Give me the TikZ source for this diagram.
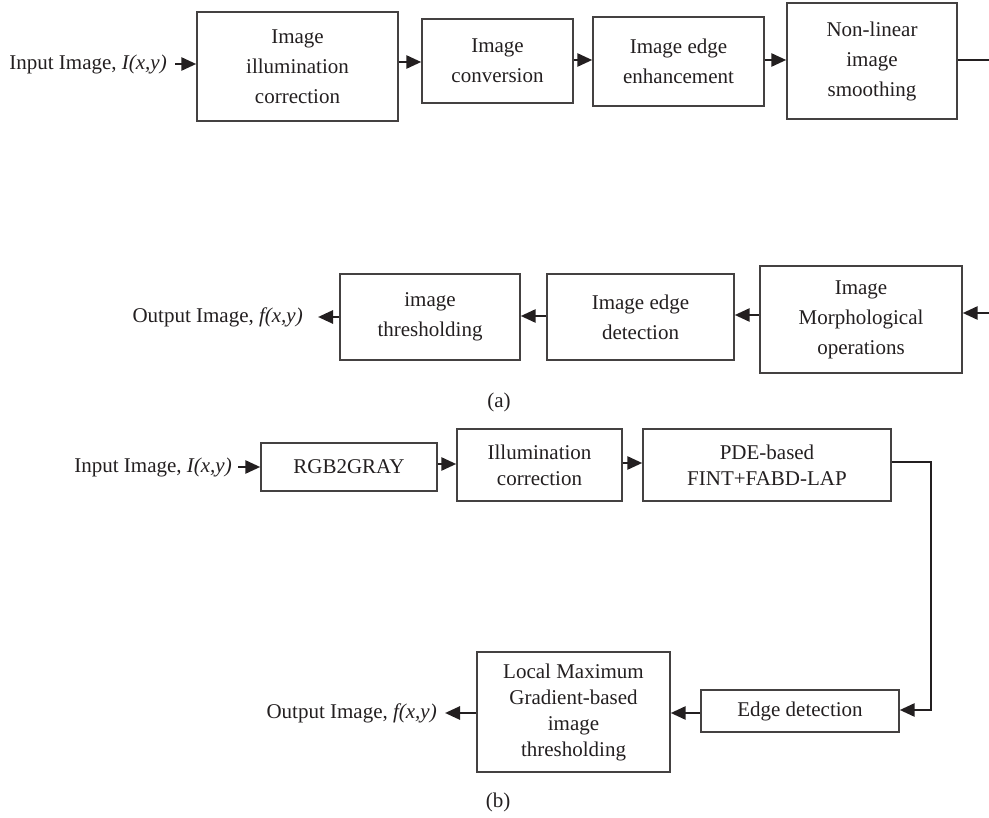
\documentclass[tikz,border=0pt]{standalone}
\usepackage{fontspec}
\setmainfont{Liberation Serif}
\usetikzlibrary{arrows.meta}
\definecolor{ink}{HTML}{231F20}
\begin{document}
\begin{tikzpicture}[x=1pt,y=-1pt,
  every node/.style={text=ink},
  box/.style={draw=ink!85, line width=1.4pt, rectangle, inner sep=0pt, align=center, font=\fontsize{21}{30}\selectfont},
  boxb/.style={box, font=\fontsize{21}{26}\selectfont},
  lbl/.style={inner sep=0pt, font=\fontsize{21}{24}\selectfont},
  conn/.style={draw=ink, line width=2.7pt},
  arr/.style={conn, -{Triangle[length=15pt,width=13pt]}}
]
\useasboundingbox (0,0) rectangle (989,818);

% ---------- (a) top row ----------
\node[lbl, anchor=east] (in1) at (167,64) {Input Image, \textit{I(x,y)}};
\node[box, minimum width=201pt, minimum height=109pt] (b1) at (297.5,66.5) {Image\\illumination\\correction};
\node[box, minimum width=151pt, minimum height=84pt] (b2) at (497.5,61) {Image\\conversion};
\node[box, minimum width=171pt, minimum height=89pt] (b3) at (678.5,61.5) {Image edge\\enhancement};
\node[box, minimum width=170pt, minimum height=116pt] (b4) at (872,61) {Non-linear\\image\\smoothing};
\coordinate (r1) at (989,60);

\draw[arr] ([xshift=8pt]in1.east) -- (b1.west |- in1.east);
\draw[arr] (b1.east |- 0,62) -- (b2.west |- 0,62);
\draw[arr] (b2.east |- 0,60) -- (b3.west |- 0,60);
\draw[arr] (b3.east |- 0,60) -- (b4.west |- 0,60);
\draw[conn] (b4.east |- r1) -- (r1);

% ---------- (a) second row ----------
\coordinate (r2) at (989,313);
\node[box, minimum width=202pt, minimum height=107pt] (c3) at (861,319.5) {Image\\Morphological\\operations};
\node[box, minimum width=187pt, minimum height=86pt] (c2) at (640.5,317) {Image edge\\detection};
\node[box, minimum width=180pt, minimum height=86pt] (c1) at (430,317) {image\\thresholding};
\node[lbl, anchor=east] (out1) at (303,317) {Output Image, \textit{f(x,y)}};

\draw[arr] (r2) -- (c3.east |- r2);
\draw[arr] (c3.west |- 0,315) -- (c2.east |- 0,315);
\draw[arr] (c2.west |- 0,316) -- (c1.east |- 0,316);
\draw[arr] (c1.west |- out1.east) -- ([xshift=15pt]out1.east);

\node[lbl] (capa) at (499,402) {(a)};

% ---------- (b) ----------
\node[lbl, anchor=east] (in2) at (232,467) {Input Image, \textit{I(x,y)}};
\node[boxb, minimum width=176pt, minimum height=48pt] (d1) at (349,467) {RGB2GRAY};
\node[boxb, minimum width=165pt, minimum height=72pt] (d2) at (539.5,465) {Illumination\\correction};
\node[boxb, minimum width=248pt, minimum height=72pt] (d3) at (767,465) {PDE-based\\FINT+FABD-LAP};
\node[boxb, minimum width=198pt, minimum height=42pt] (d4) at (800,711) {Edge detection};
\node[boxb, minimum width=193pt, minimum height=120pt] (d5) at (573.5,712) {Local Maximum\\Gradient-based\\image\\thresholding};
\node[lbl, anchor=east] (out2) at (437,713) {Output Image, \textit{f(x,y)}};
\coordinate (k1) at (931,462);
\coordinate (k2) at (931,710);

\draw[arr] ([xshift=6pt]in2.east) -- (d1.west |- in2.east);
\draw[arr] (d1.east |- 0,464) -- (d2.west |- 0,464);
\draw[arr] (d2.east |- 0,463) -- (d3.west |- 0,463);
\draw[arr, line join=miter] (d3.east |- k1) -- (k1) -- (k2) -- (d4.east |- k2);
\draw[arr] (d4.west |- 0,713) -- (d5.east |- 0,713);
\draw[arr] (d5.west |- out2.east) -- ([xshift=8pt]out2.east);

\node[lbl] (capb) at (498,802) {(b)};
\end{tikzpicture}
\end{document}
